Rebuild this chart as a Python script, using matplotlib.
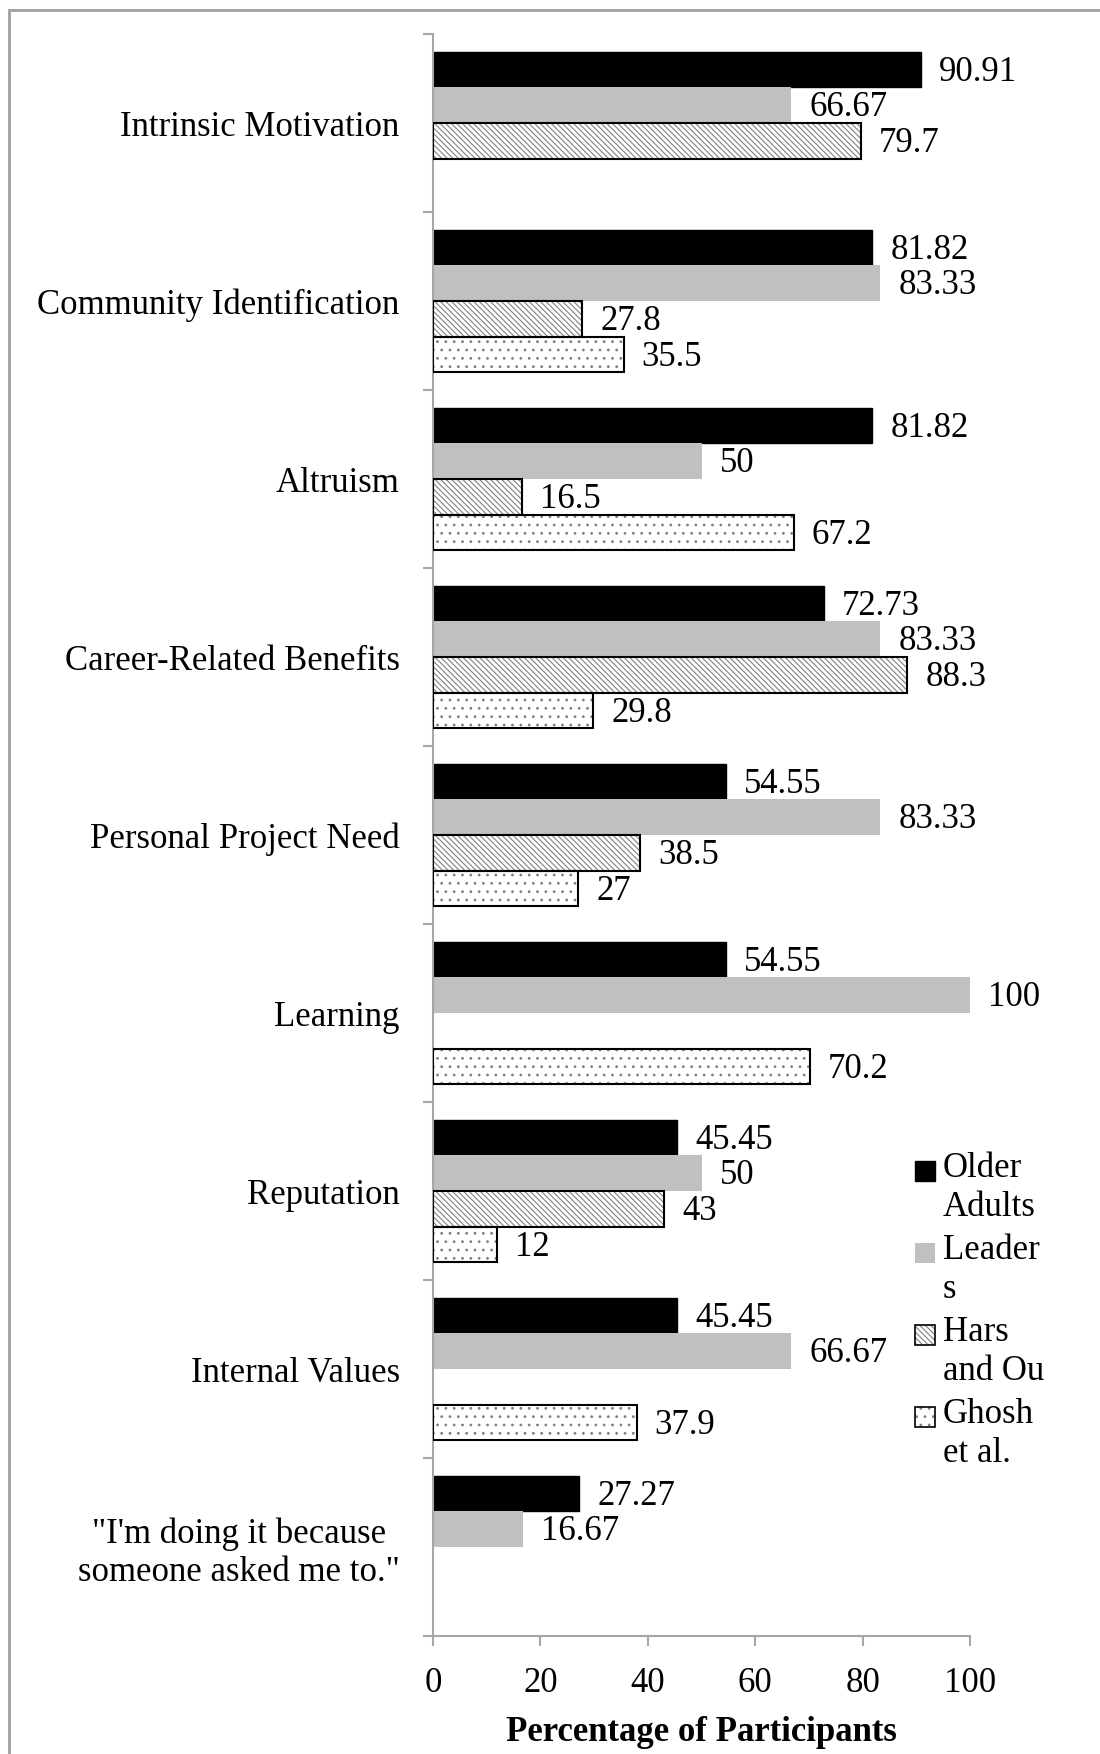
import matplotlib
matplotlib.use("Agg")
import matplotlib.pyplot as plt
from matplotlib.patches import Rectangle
import numpy as np

plt.rcParams['font.family'] = ['Liberation Serif', 'DejaVu Serif']
plt.rcParams['hatch.linewidth'] = 0.8

categories = [
    "Intrinsic Motivation",
    "Community Identification",
    "Altruism",
    "Career-Related Benefits",
    "Personal Project Need",
    "Learning",
    "Reputation",
    "Internal Values",
    "\"I'm doing it because\nsomeone asked me to.\"",
]
series_names = ["Older\nAdults", "Leader\ns", "Hars\nand Ou", "Ghosh\net al."]

older_adults = [90.91, 81.82, 81.82, 72.73, 54.55, 54.55, 45.45, 45.45, 27.27]
leaders = [66.67, 83.33, 50, 83.33, 83.33, 100, 50, 66.67, 16.67]
hars_and_ou = [79.7, 27.8, 16.5, 88.3, 38.5, None, 43, None, None]
ghosh_et_al = [None, 35.5, 67.2, 29.8, 27, 70.2, 12, 37.9, None]

x_ticks = [0, 20, 40, 60, 80, 100]

FS = 25
GRAY_AXIS = "#a6a6a6"

fig = plt.figure(figsize=(11, 17.54), dpi=100)
ax = fig.add_axes([433 / 1100, 1 - 1636 / 1754, (970 - 433) / 1100, (1636 - 34) / 1754])

# frame around the figure
fig.patches.append(Rectangle((9 / 1100, -0.05), 1.2, 1 - 10 / 1754 + 0.05,
                             transform=fig.transFigure, fill=False,
                             edgecolor="#a0a0a0", linewidth=2.0))

y = np.arange(len(categories))
h = 0.2
offsets = [-0.3, -0.1, 0.1, 0.3]

styles = [
    dict(color="black", edgecolor="black", hatch=None, hatchcolor=None),
    dict(color="#c0c0c0", edgecolor="none", hatch=None, hatchcolor=None),
    dict(color="white", edgecolor="black", hatch="\\\\\\\\\\\\", hatchcolor="#808080"),
    dict(color="white", edgecolor="black", hatch="..", hatchcolor="#808080"),
]

all_series = [older_adults, leaders, hars_and_ou, ghosh_et_al]

for vals, off, st in zip(all_series, offsets, styles):
    idx = [i for i, v in enumerate(vals) if v is not None]
    v = [vals[i] for i in idx]
    pos = y[idx] + off
    if st["hatch"] is None:
        ax.barh(pos, v, height=h, color=st["color"], edgecolor=st["edgecolor"],
                linewidth=1.0, zorder=2)
    else:
        # hatch layer drawn in grey, outline drawn on top in black
        ax.barh(pos, v, height=h, color=st["color"], edgecolor=st["hatchcolor"],
                hatch=st["hatch"], linewidth=0, zorder=2)
        ax.barh(pos, v, height=h, fill=False, edgecolor=st["edgecolor"],
                linewidth=1.5, zorder=3)
    for p, val in zip(pos, v):
        ax.annotate(f"{val:g}", xy=(val, p), xytext=(13, -2), textcoords="offset points",
                    ha="left", va="center", fontsize=FS)

ax.set_xlim(0, 100)
ax.set_ylim(len(categories) - 0.5, -0.5)
ax.set_xticks(x_ticks)
ax.set_xticklabels([str(t) for t in x_ticks], fontsize=FS)
ax.set_yticks(y)
ax.set_yticklabels(categories, fontsize=FS, multialignment="center")
ax.set_yticks(np.arange(-0.5, len(categories), 1.0), minor=True)
ax.tick_params(axis="y", which="major", length=0, pad=24)
ax.tick_params(axis="y", which="minor", length=7, color=GRAY_AXIS, width=1.5)
ax.tick_params(axis="x", which="major", length=7, color=GRAY_AXIS, width=1.5, pad=15)

for s in ["top", "right"]:
    ax.spines[s].set_visible(False)
for s in ["left", "bottom"]:
    ax.spines[s].set_color(GRAY_AXIS)
    ax.spines[s].set_linewidth(1.5)

ax.set_xlabel("Percentage of Participants", fontsize=FS, fontweight="bold", labelpad=12)

# legend drawn as square swatches with wrapped labels
leg_x = 915 / 1100
sq = 20
for i, (name, st) in enumerate(zip(series_names, styles)):
    yc = 1171 + 82 * i
    y_fig = 1 - (yc + sq / 2) / 1754
    if st["hatch"] is None:
        r = Rectangle((leg_x, y_fig), sq / 1100, sq / 1754, transform=fig.transFigure,
                      facecolor=st["color"], edgecolor=st["edgecolor"], linewidth=1.0)
        fig.patches.append(r)
    else:
        r = Rectangle((leg_x, y_fig), sq / 1100, sq / 1754, transform=fig.transFigure,
                      facecolor="white", edgecolor=st["hatchcolor"], hatch=st["hatch"],
                      linewidth=0)
        fig.patches.append(r)
        r2 = Rectangle((leg_x, y_fig), sq / 1100, sq / 1754, transform=fig.transFigure,
                       fill=False, edgecolor="black", linewidth=1.2)
        fig.patches.append(r2)
    fig.text(943 / 1100, 1 - (yc - 19) / 1754, name, fontsize=FS, ha="left", va="top",
             linespacing=1.25)

fig.savefig("out.png", dpi=100)
